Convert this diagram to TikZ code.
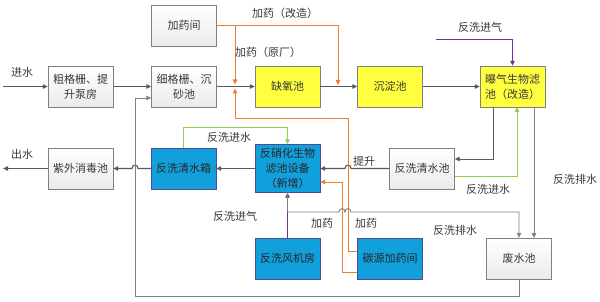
\documentclass[tikz,border=0pt]{standalone}
\usepackage{fontspec}
\setmainfont{Noto Sans CJK SC}
\usetikzlibrary{arrows.meta}
\definecolor{lineg}{HTML}{595959}
\definecolor{lineg2}{HTML}{808080}
\definecolor{orng}{HTML}{ED7D31}
\definecolor{grn}{HTML}{92D050}
\definecolor{purp}{HTML}{7030A0}
\definecolor{yel}{HTML}{FFFF40}
\definecolor{blu}{HTML}{12A0DC}
\definecolor{txt}{HTML}{383838}
\tikzset{
  base/.style={minimum width=65pt,minimum height=41pt,inner sep=1pt,align=center,font=\fontsize{11}{15}\selectfont,text=txt},
  greybox/.style={base,draw=lineg2,top color=white,bottom color=black!8},
  yelbox/.style={base,draw=black!50,fill=yel},
  blubox/.style={base,draw=blue!40!black!70,fill=blu,text=black!85},
  tip/.style={-{Triangle[length=5pt,width=4.5pt]}},
  flow/.style={tip,draw=lineg,line width=1.1pt},
  dline/.style={tip,draw=lineg,line width=0.9pt},
  gline/.style={tip,draw=lineg2,line width=0.9pt},
  oline/.style={tip,draw=orng,line width=0.9pt},
  grline/.style={tip,draw=grn,line width=0.9pt},
  pline/.style={tip,draw=purp,line width=0.9pt},
  lbl/.style={font=\fontsize{11}{13}\selectfont,text=txt,inner sep=0pt}
}
\begin{document}
\begin{tikzpicture}[x=1pt,y=-1pt]
\useasboundingbox (0,0) rectangle (600,302);
% boxes
\node[greybox] (n1) at (80.5,86.5) {粗格栅、提\\升泵房};
\node[greybox] (n2) at (184,86.5) {细格栅、沉\\砂池};
\node[greybox] (dose) at (184,25.5) {加药间};
\node[yelbox] (anox) at (287.5,86.5) {缺氧池};
\node[yelbox] (sed) at (390,86.5) {沉淀池};
\node[yelbox] (baf) at (512.5,86.5) {曝气生物滤\\池（改造）};
\node[greybox] (uv) at (80.5,168.5) {紫外消毒池};
\node[blubox] (tank) at (183.5,168.5) {反洗清水箱};
\node[blubox,minimum height=48pt] (dnf) at (287.5,168.5) {反硝化生物\\滤池设备\\（新增）};
\node[greybox] (pool) at (422,168.5) {反洗清水池};
\node[blubox] (blower) at (287.5,258.5) {反洗风机房};
\node[blubox] (carbon) at (390,258.5) {碳源加药间};
\node[greybox] (waste) at (519,258.5) {废水池};
% coordinates
\coordinate (in) at (3,86.5);
\coordinate (out) at (3,168.5);
\coordinate (dA) at (235,25.5);
\coordinate (dB) at (338,25.5);
\coordinate (pIn) at (436,39);
% main flow
\draw[flow] (in) -- (n1);
\draw[flow] (n1) -- (n2);
\draw[flow] (n2) -- (anox);
\draw[flow] (anox) -- (sed);
\draw[flow] (sed) -- (baf);
\draw[flow] (dnf) -- (tank);
\draw[flow] (tank.west) -- (138,168.5) .. controls (138,164) and (132,164) .. (132,168.5) -- (uv.east);
\draw[flow] (uv) -- (out);
\draw[flow] (pool.west) -- (351,168.5) .. controls (351,164) and (345,164) .. (345,168.5) -- (dnf.east);
\draw[dline] (493,107) -- (493,159) -- (pool.east |- 0,159);
% dosing
\draw[oline] (dose.east) -- (dB) -- (338,85);
\draw[oline] (dA) -- (235,84.5);
\draw[oline] (carbon.west |- 0,251) -- (348,251) -- (348,118) -- (235,118) -- (235,88.5);
\draw[oline] (carbon.west |- 0,272) -- (342,272) -- (342,182) -- (dnf.east |- 0,182);
% green backwash water
\draw[grline] (pool.east |- 0,176) -- (517,176) -- (517,107);
\draw[grline] (183,148) -- (183,127) -- (287.5,127) -- (dnf.north);
% purple air
\draw[pline] (pIn) -- (512.5,39) -- (baf.north);
\draw[pline] (blower) -- (dnf);
% grey drain lines
\draw[gline] (534,107) -- (534,238);
\draw[gline] (287.5,192.5) -- (287.5,212) -- (339,212) .. controls (339,207.5) and (345,207.5) .. (345,212) .. controls (345,207.5) and (351,207.5) .. (351,212) -- (519,212) -- (waste.north);
\draw[gline] (waste.south) -- (519,296) -- (135,296) -- (135,98) -- (n2.west |- 0,98);
% labels
\node[lbl] at (22,72) {进水};
\node[lbl] at (22,154) {出水};
\node[lbl] at (285,13) {加药（改造）};
\node[lbl] at (268,52) {加药（原厂）};
\node[lbl] at (480,27) {反洗进气};
\node[lbl] at (229,137) {反洗进水};
\node[lbl] at (364,161) {提升};
\node[lbl] at (488,189) {反洗进水};
\node[lbl] at (575,179) {反洗排水};
\node[lbl] at (235,216) {反洗进气};
\node[lbl] at (322,223) {加药};
\node[lbl] at (366,223) {加药};
\node[lbl] at (455,230) {反洗排水};
\end{tikzpicture}
\end{document}
